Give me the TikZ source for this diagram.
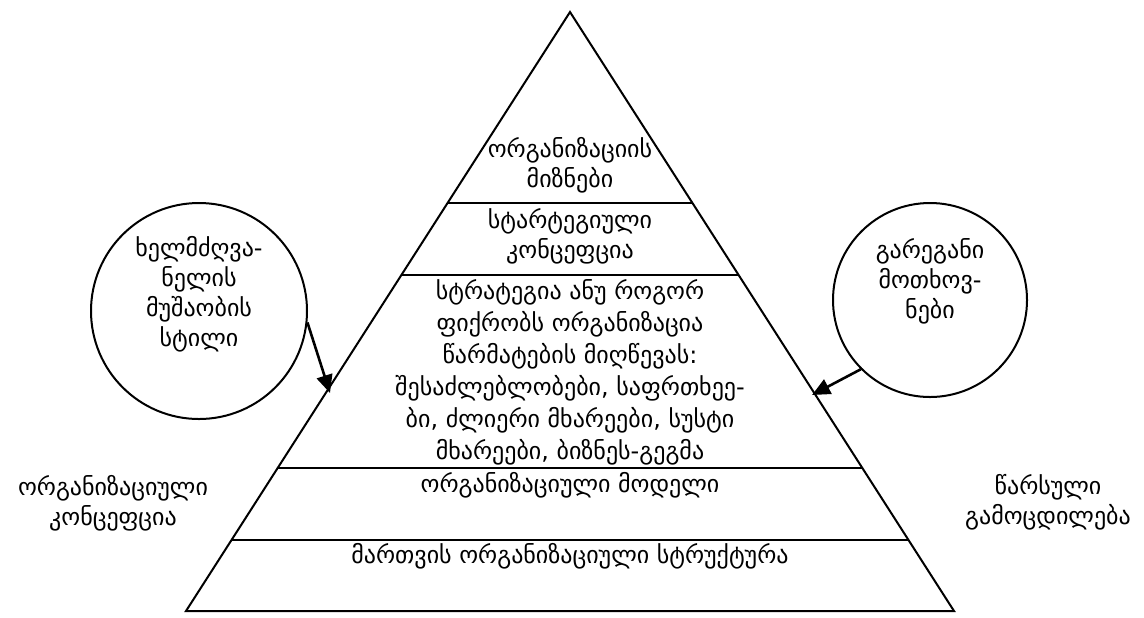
\documentclass[tikz,border=0pt]{standalone}
\usepackage{fontspec}
\setmainfont{DejaVu Sans}
\usetikzlibrary{calc,arrows.meta}

\begin{document}
\begin{tikzpicture}[x=0.5pt, y=-0.5pt, line width=1pt,
    every node/.style={font=\fontsize{12}{15}\selectfont, align=center},
    bubble/.style={draw, circle, inner sep=0pt},
    push/.style={line width=1.3pt, -{Triangle[length=9pt,width=8pt]}}]
      \useasboundingbox (0,0) rectangle (1144,617);
      % pyramid
      \coordinate (apex) at (570,12);
      \coordinate (bl) at (186,611);
      \coordinate (br) at (954,611);
      \draw (bl) -- (apex) -- (br) -- cycle;
      \foreach \f in {0.3189, 0.4391, 0.7613, 0.8815}
        \draw ($(apex)!\f!(bl)$) -- ($(apex)!\f!(br)$);
      \node[anchor=center] (goals) at (570,165) {ორგანიზაციის\\მიზნები};
      \node[anchor=center] (concept) at (570,236) {სტარტეგიული\\კონცეფცია};
      \node[anchor=center, font=\fontsize{12}{16}\selectfont] (strategy) at (570,372)
        {სტრატეგია ანუ როგორ\\ფიქრობს ორგანიზაცია\\წარმატების მიღწევას:\\შესაძლებლობები, საფრთხეე-\\ბი, ძლიერი მხარეები, სუსტი\\მხარეები, ბიზნეს-გეგმა};
      \node[anchor=center] (model) at (570,485) {ორგანიზაციული მოდელი};
      \node[anchor=center] (structure) at (570,556) {მართვის ორგანიზაციული სტრუქტურა};
      % circles
      \node[bubble, minimum size=108pt] (leader) at (199,311) {};
      \node[anchor=center] (leadertxt) at (199,294) {ხელმძღვა-\\ნელის\\მუშაობის\\სტილი};
      \node[bubble, minimum size=97pt] (demand) at (930,300) {};
      \node[anchor=center] (demandtxt) at (930,281) {გარეგანი\\მოთხოვ-\\ნები};
      \coordinate (ltip) at (330,393);
      \coordinate (rtip) at (812,395);
      \draw[push] (leader.-6) -- (ltip);
      \draw[push] (demand.225) -- (rtip);
      % outside
      \node[anchor=center] (orgconcept) at (113,503) {ორგანიზაციული\\კონცეფცია};
      \node[anchor=center] (past) at (1048,502) {წარსული\\გამოცდილება};
\end{tikzpicture}
\end{document}
